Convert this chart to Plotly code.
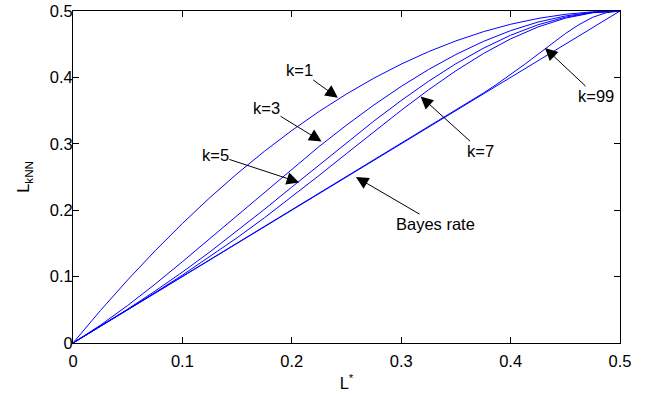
import plotly.graph_objects as go

# Bayes error L* on the horizontal axis
l_star = [0.0, 0.025, 0.05, 0.075, 0.1, 0.125, 0.15, 0.175, 0.2, 0.225, 0.25,
          0.275, 0.3, 0.325, 0.35, 0.375, 0.4, 0.425, 0.45, 0.475, 0.5]

# Asymptotic k-NN error for k = 1, 3, 5, 7
k1 = [0.0, 0.0488, 0.0950, 0.1388, 0.1800, 0.2188, 0.2550, 0.2888, 0.3200, 0.3488, 0.3750,
      0.3988, 0.4200, 0.4388, 0.4550, 0.4688, 0.4800, 0.4888, 0.4950, 0.4988, 0.5]
k3 = [0.0, 0.0268, 0.0565, 0.0886, 0.1224, 0.1572, 0.1925, 0.2278, 0.2624, 0.2960, 0.3281,
      0.3584, 0.3864, 0.4119, 0.4345, 0.4541, 0.4704, 0.4833, 0.4925, 0.4981, 0.5]
k5 = [0.0, 0.0251, 0.0510, 0.0782, 0.1068, 0.1370, 0.1686, 0.2013, 0.2348, 0.2684, 0.3018,
      0.3342, 0.3652, 0.3942, 0.4206, 0.4438, 0.4635, 0.4792, 0.4907, 0.4977, 0.5]
k7 = [0.0, 0.0250, 0.0502, 0.0758, 0.1022, 0.1297, 0.1585, 0.1886, 0.2200, 0.2524, 0.2853,
      0.3182, 0.3504, 0.3813, 0.4100, 0.4358, 0.4580, 0.4759, 0.4892, 0.4973, 0.5]

# k = 99 follows the Bayes rate closely until L* approaches 0.5
l_star_99 = [0.0, 0.1, 0.2, 0.3, 0.325, 0.35, 0.375, 0.3875, 0.4, 0.4125, 0.425,
             0.4375, 0.45, 0.4625, 0.475, 0.4875, 0.5]
k99 = [0.0, 0.1, 0.2, 0.3, 0.3250, 0.3503, 0.3763, 0.3899, 0.4042, 0.4192, 0.4348,
       0.4506, 0.4659, 0.4795, 0.4905, 0.4975, 0.5]

# Bayes rate itself
bayes_x = [0.0, 0.5]
bayes = [0.0, 0.5]

FONT = "Liberation Sans, Arial, Helvetica, sans-serif"
BLUE = "#0000ff"
FS = 16.5

fig = go.Figure()
for xs, ys in [(l_star, k1), (l_star, k3), (l_star, k5), (l_star, k7),
               (l_star_99, k99), (bayes_x, bayes)]:
    fig.add_trace(go.Scatter(x=xs, y=ys, mode="lines",
                             line=dict(color=BLUE, width=1), showlegend=False))

# (label, text centre, arrow tip) in data coordinates
labels = [
    ("k=1", (0.2074, 0.4105), (0.2421, 0.3694)),
    ("k=3", (0.1769, 0.3544), (0.2272, 0.3036)),
    ("k=5", (0.1301, 0.2834), (0.2067, 0.2419)),
    ("k=7", (0.3726, 0.2896), (0.3177, 0.3714)),
    ("k=99", (0.4779, 0.3724), (0.4314, 0.4443)),
    ("Bayes rate", (0.3317, 0.1797), (0.2586, 0.2500)),
]
for text, (tx, ty), (hx, hy) in labels:
    fig.add_annotation(x=hx, y=hy, ax=tx, ay=ty, xref="x", yref="y",
                       axref="x", ayref="y", text=text, showarrow=True,
                       arrowhead=2, arrowsize=2.5, arrowwidth=1, arrowcolor="black",
                       borderpad=0,
                       font=dict(family=FONT, size=FS, color="black"))

axis_common = dict(range=[0, 0.5], dtick=0.1, showgrid=False, zeroline=False,
                   showline=True, linecolor="black", linewidth=1, mirror="ticks",
                   ticks="inside", ticklen=6, tickcolor="black", automargin=False,
                   tickfont=dict(family=FONT, size=FS, color="black"))

fig.update_layout(
    width=648, height=395,
    margin=dict(l=73, r=28, t=11, b=52),
    paper_bgcolor="white", plot_bgcolor="white",
    font=dict(family=FONT, size=FS, color="black"),
    xaxis=dict(**axis_common, ticklabelstandoff=3,
               title=dict(text="L<sup>*</sup>", font=dict(family=FONT, size=FS), standoff=8)),
    yaxis=dict(**axis_common, ticklabelstandoff=-4,
               title=dict(text="L<sub>kNN</sub>", font=dict(family=FONT, size=FS), standoff=15)),
)

fig.write_html("out.html")
